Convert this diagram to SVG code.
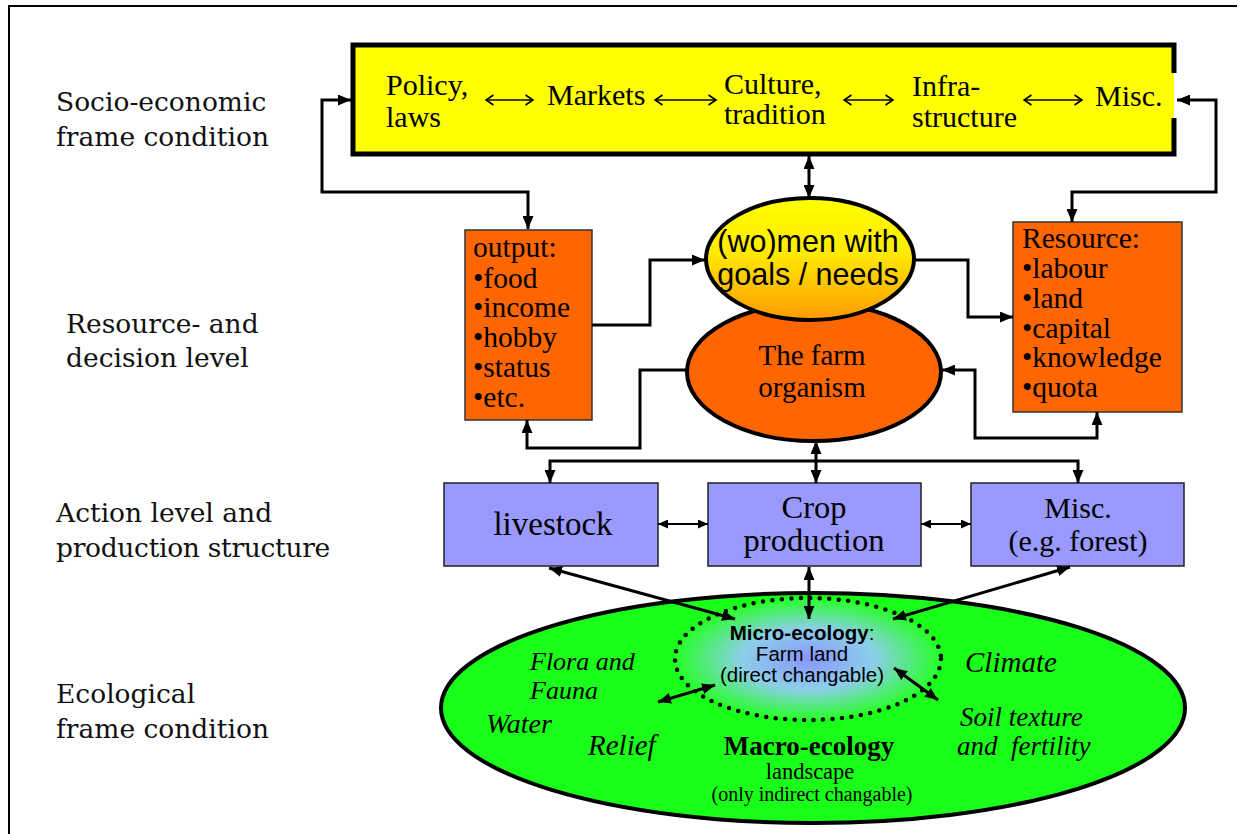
<svg xmlns="http://www.w3.org/2000/svg" width="1242" height="834" viewBox="0 0 1242 834">
<style>
.lbl{font-family:"DejaVu Serif","Liberation Serif",serif;font-size:26.5px;fill:#111}
.tm{font-family:"Liberation Serif","Times New Roman",serif;fill:#000}
.ar{font-family:"Liberation Sans",Arial,sans-serif;fill:#000}
.c{stroke:#000;stroke-width:3;fill:none}
.cs{stroke:#000;stroke-width:2;fill:none}
.it{font-style:italic;font-size:26px}
</style>
<defs>
<marker id="ah" markerUnits="userSpaceOnUse" markerWidth="14" markerHeight="11" refX="13" refY="5.5" orient="auto-start-reverse"><path d="M0,0 L13,5.5 L0,11 z" fill="#000"/></marker>
<marker id="as" markerUnits="userSpaceOnUse" markerWidth="11" markerHeight="9" refX="10" refY="4.5" orient="auto-start-reverse"><path d="M0,0 L10,4.5 L0,9 z" fill="#000"/></marker>
<marker id="ao" markerUnits="userSpaceOnUse" markerWidth="10" markerHeight="12" refX="8.5" refY="6" orient="auto-start-reverse"><path d="M1,1 L8.5,6 L1,11" fill="none" stroke="#000" stroke-width="1.6"/></marker>
<linearGradient id="gw" x1="0" y1="0" x2="0" y2="1"><stop offset="0" stop-color="#ffff00"/><stop offset="0.45" stop-color="#ffea00"/><stop offset="1" stop-color="#ff9a00"/></linearGradient>
<radialGradient id="gm" cx="0.5" cy="0.5" r="0.5"><stop offset="0" stop-color="#8a95ff"/><stop offset="0.5" stop-color="#8ccfe8"/><stop offset="1" stop-color="#26ff26"/></radialGradient>
</defs>
<rect width="1242" height="834" fill="#fff"/>
<path d="M9,834 V6 H1237" fill="none" stroke="#000" stroke-width="2"/>
<g id="labels">
<text class="lbl" x="56" y="111">Socio-economic</text>
<text class="lbl" x="56" y="146">frame condition</text>
<text class="lbl" x="66" y="333">Resource- and</text>
<text class="lbl" x="66" y="367">decision level</text>
<text class="lbl" x="56" y="522">Action level and</text>
<text class="lbl" x="56" y="557" letter-spacing="-0.3">production structure</text>
<text class="lbl" x="56" y="703">Ecological</text>
<text class="lbl" x="56" y="738">frame condition</text>
</g>
<g id="socio">
<rect x="353" y="45" width="821" height="109" fill="#ffff00"/>
<path d="M1174,118 V154 H353 V45 H1174 V73" fill="none" stroke="#000" stroke-width="5"/>
<g class="tm" font-size="30">
<text x="386" y="95">Policy,</text><text x="386" y="127">laws</text>
<text x="547" y="105">Markets</text>
<text x="724" y="94">Culture,</text><text x="724" y="124">tradition</text>
<text x="912" y="96">Infra-</text><text x="912" y="127">structure</text>
<text x="1095" y="106">Misc.</text>
</g>
<g stroke="#000" stroke-width="1.6">
<line x1="486" y1="100" x2="533" y2="100" marker-start="url(#ao)" marker-end="url(#ao)"/>
<line x1="655" y1="100" x2="716" y2="100" marker-start="url(#ao)" marker-end="url(#ao)"/>
<line x1="844" y1="100" x2="893" y2="100" marker-start="url(#ao)" marker-end="url(#ao)"/>
<line x1="1024" y1="100" x2="1082" y2="100" marker-start="url(#ao)" marker-end="url(#ao)"/>
</g>
</g>
<g id="output">
<rect x="465" y="230" width="127" height="190" fill="#ff6600" stroke="#333" stroke-width="1.5"/>
<g class="tm" font-size="29.5">
<text x="473" y="257">output:</text>
<text x="473" y="288">•food</text>
<text x="473" y="317">•income</text>
<text x="473" y="347">•hobby</text>
<text x="473" y="377">•status</text>
<text x="473" y="407">•etc.</text>
</g>
</g>
<g id="resource">
<rect x="1013" y="222" width="169" height="190" fill="#ff6600" stroke="#333" stroke-width="1.5"/>
<g class="tm" font-size="29.5">
<text x="1022" y="248">Resource:</text>
<text x="1022" y="278">•labour</text>
<text x="1022" y="308">•land</text>
<text x="1022" y="338">•capital</text>
<text x="1022" y="367">•knowledge</text>
<text x="1022" y="397">•quota</text>
</g>
</g>
<g id="farm">
<ellipse cx="814" cy="372" rx="127" ry="69" fill="#ff6600" stroke="#000" stroke-width="4"/>
<text class="tm" font-size="29" x="812" y="365" text-anchor="middle">The farm</text>
<text class="tm" font-size="29" x="812" y="397" text-anchor="middle">organism</text>
</g>
<g id="women">
<ellipse cx="810" cy="259" rx="104" ry="61" fill="url(#gw)" stroke="#000" stroke-width="4"/>
<text class="ar" font-size="30.5" x="808" y="252" text-anchor="middle">(wo)men with</text>
<text class="ar" font-size="30.5" x="808" y="285" text-anchor="middle">goals / needs</text>
</g>
<g id="livestock">
<rect x="444" y="483" width="214" height="83" fill="#9999ff" stroke="#222" stroke-width="1.5"/>
<text class="tm" font-size="33" x="553" y="535" text-anchor="middle">livestock</text>
</g>
<g id="crop">
<rect x="708" y="483" width="213" height="83" fill="#9999ff" stroke="#222" stroke-width="1.5"/>
<text class="tm" font-size="32.5" x="814" y="518" text-anchor="middle">Crop</text>
<text class="tm" font-size="32.5" x="814" y="551" text-anchor="middle">production</text>
</g>
<g id="misc">
<rect x="971" y="483" width="213" height="83" fill="#9999ff" stroke="#222" stroke-width="1.5"/>
<text class="tm" font-size="30" x="1078" y="518" text-anchor="middle">Misc.</text>
<text class="tm" font-size="30" x="1078" y="551" text-anchor="middle">(e.g. forest)</text>
</g>
<g id="ecology">
<ellipse cx="813" cy="708" rx="372" ry="115" fill="#1aff1a" stroke="#000" stroke-width="4"/>
<ellipse cx="808" cy="659" rx="133" ry="61" fill="url(#gm)" stroke="#000" stroke-width="4.5" stroke-dasharray="0 9.5" stroke-linecap="round"/>
<text class="ar" font-size="20.5" x="802" y="640" text-anchor="middle"><tspan font-weight="bold">Micro-ecology</tspan>:</text>
<text class="ar" font-size="20.5" x="802" y="661" text-anchor="middle">Farm land</text>
<text class="ar" font-size="20.5" x="802" y="682" text-anchor="middle">(direct changable)</text>
<g class="tm it">
<text x="530" y="670">Flora and</text>
<text x="530" y="699">Fauna</text>
<text x="486" y="733" font-size="28">Water</text>
<text x="588" y="755" font-size="29">Relief</text>
<text x="965" y="672" font-size="29">Climate</text>
<text x="960" y="726" font-size="27">Soil texture</text>
<text x="957" y="755" font-size="27" xml:space="preserve">and  fertility</text>
</g>
<text class="tm" font-size="27" font-weight="bold" x="809" y="755" text-anchor="middle">Macro-ecology</text>
<text class="tm" font-size="22.5" x="810" y="779" text-anchor="middle">landscape</text>
<text class="tm" font-size="20" x="812" y="801" text-anchor="middle">(only indirect changable)</text>
</g>
<g id="connectors">
<path class="c" d="M528,229 V192 H322 V100 H351" marker-start="url(#ah)" marker-end="url(#ah)"/>
<path class="c" d="M1072,222 V192 H1216 V100 H1177" marker-start="url(#ah)" marker-end="url(#ah)"/>
<line class="c" x1="809" y1="156" x2="809" y2="198" marker-start="url(#ah)" marker-end="url(#ah)"/>
<path class="c" d="M592,325 H650 V260 H705" marker-end="url(#ah)"/>
<path class="c" d="M914,260 H968 V317 H1013" marker-end="url(#ah)"/>
<path class="c" d="M687,370 H640 V448 H527 V420" marker-end="url(#ah)"/>
<path class="c" d="M942,370 H975 V438 H1097 V412" marker-start="url(#ah)" marker-end="url(#ah)"/>
<path class="c" d="M550,483 V461 H1078 V483" marker-start="url(#ah)" marker-end="url(#ah)"/>
<line class="c" x1="816" y1="441" x2="816" y2="483" marker-start="url(#ah)" marker-end="url(#ah)"/>
<line class="cs" x1="658" y1="524" x2="708" y2="524" marker-start="url(#as)" marker-end="url(#as)"/>
<line class="cs" x1="921" y1="524" x2="971" y2="524" marker-start="url(#as)" marker-end="url(#as)"/>
<line class="c" x1="549" y1="568" x2="735" y2="619" marker-start="url(#ah)" marker-end="url(#ah)"/>
<line class="c" x1="809" y1="567" x2="809" y2="619" marker-start="url(#ah)" marker-end="url(#ah)"/>
<line class="c" x1="1070" y1="567" x2="893" y2="619" marker-start="url(#ah)" marker-end="url(#ah)"/>
<line class="c" x1="658" y1="702" x2="715" y2="685" marker-start="url(#ah)" marker-end="url(#ah)"/>
<line class="c" x1="894" y1="668" x2="938" y2="700" marker-start="url(#ah)" marker-end="url(#ah)"/>
</g>
</svg>
